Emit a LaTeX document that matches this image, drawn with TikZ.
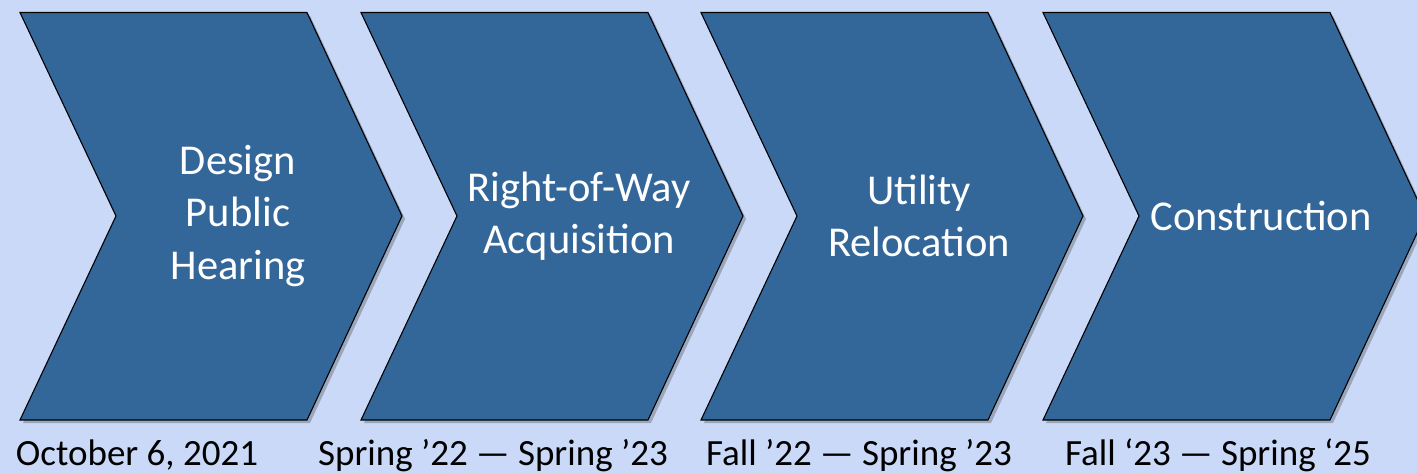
\documentclass[tikz,border=0pt]{standalone}
\usepackage{fontspec}
\setmainfont{Carlito}
\usetikzlibrary{shadows}
\definecolor{bgblue}{RGB}{201,217,247}
\definecolor{chevblue}{RGB}{52,103,153}
\tikzset{
  chev/.style={fill=chevblue, draw=black, line width=1.1pt, line join=miter,
    drop shadow={opacity=0.3, shadow xshift=3pt, shadow yshift=-3pt, fill=black!80}},
  inlabel/.style={text=white, align=center, font=\fontsize{42.5}{52.5}\selectfont, inner sep=0pt},
  datelabel/.style={text=black, font=\fontsize{37}{44}\selectfont, anchor=base, inner sep=0pt}
}
\newcommand{\chevron}[2]{%
  \path[chev] (#1,12.5) -- (#1+287,12.5) -- (#1+382,216) -- (#1+287,420) -- (#1,420) -- (#1+96,216) -- cycle;
  \coordinate (#2) at (#1+218,216);
}
\begin{document}
\begin{tikzpicture}[x=1pt,y=-1pt]
  \useasboundingbox (0,0) rectangle (1417,474);
  \fill[bgblue] (0,0) rectangle (1417,474);
  \begin{scope}
    \clip (0,0) rectangle (1417,474);
    \chevron{20}{c1}
    \chevron{361}{c2}
    \chevron{701}{c3}
    \chevron{1043}{c4}
  \end{scope}
  \node[inlabel] (t1) at (c1) {Design\\Public\\Hearing};
  \node[inlabel] (t2) at (c2) {Right-of-Way\\Acquisition};
  \node[inlabel] (t3) at (c3) {Utility\\Relocation};
  \node[inlabel] (t4) at (c4) {Construction};
  \node[datelabel] (d1) at (137,465) {October 6, 2021};
  \node[datelabel] (d2) at (493,465) {Spring ’22 — Spring ’23};
  \node[datelabel] (d3) at (859,465) {Fall ’22 — Spring ’23};
  \node[datelabel] (d4) at (1218,465) {Fall ‘23 — Spring ‘25};
\end{tikzpicture}
\end{document}
